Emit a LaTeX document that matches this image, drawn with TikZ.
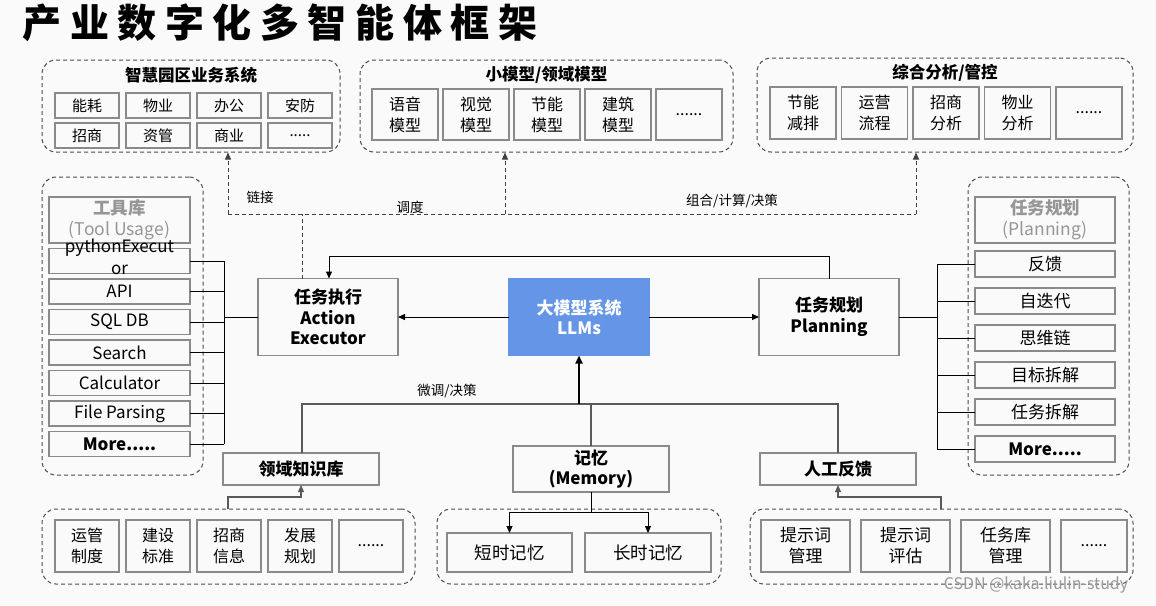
\documentclass[tikz,border=0pt]{standalone}
\usepackage{fontspec}
\setmainfont{Noto Sans CJK SC}
\usetikzlibrary{positioning, arrows.meta}

\definecolor{llmblue}{HTML}{6495E6}
\definecolor{boxgray}{HTML}{8A8A8A}
\definecolor{hdrgray}{HTML}{969696}

\tikzset{
  grp/.style={draw=black!70, line width=1pt, dash pattern=on 4pt off 3pt, rounded corners=14pt},
  cell/.style={draw=boxgray, line width=1.2pt, inner sep=0pt, outer sep=0pt, align=center, font=\fontsize{16}{21}\selectfont},
  pcell/.style={cell, minimum width=64pt, minimum height=25pt, font=\fontsize{15}{18}\selectfont},
  tool/.style={cell, minimum width=141pt, minimum height=25pt, font=\fontsize{17}{22}\selectfont},
  plan/.style={cell, minimum width=140pt, minimum height=26pt, font=\fontsize{17}{22}\selectfont},
  core/.style={draw=boxgray, line width=1.2pt, inner sep=0pt, outer sep=0pt, align=center, font=\bfseries\fontsize{17}{20.5}\selectfont},
  gtitle/.style={font=\bfseries\fontsize{16.5}{18}\selectfont},
  lbl/.style={font=\fontsize{13.5}{15}\selectfont},
  wire/.style={draw=black, line width=1pt},
  wiregray/.style={draw=black!65, line width=1.2pt},
  dwire/.style={draw=black!75, line width=1pt, dash pattern=on 4pt off 3pt},
  arr/.style={-{Triangle[length=7pt,width=6pt]}},
}

\begin{document}
\begin{tikzpicture}[x=1pt, y=-1pt]
  \useasboundingbox (0,0) rectangle (1156,605);
  \fill[black!2] (0,0) rectangle (1156,605);

  % Titolo
  \node[anchor=west, font=\bfseries\fontsize{39}{40}\selectfont\addfontfeatures{LetterSpace=22}] (title) at (19,23) {产业数字化多智能体框架};

  %智慧园区业务系统
  \node[grp, minimum width=298pt, minimum height=92pt] (park) at (191,106) {};
  \node[gtitle] (parkt) at (191,75) {智慧园区业务系统};
  \node[pcell] (nh) at (87,105.5) {能耗};
  \node[pcell, right=7pt of nh] (wy) {物业};
  \node[pcell, right=7pt of wy] (bg) {办公};
  \node[pcell, right=7pt of bg] (af) {安防};
  \node[pcell, below=5pt of nh] (zs) {招商};
  \node[pcell, right=7pt of zs] (zg) {资管};
  \node[pcell, right=7pt of zg] (sy) {商业};
  \node[pcell, right=7pt of sy] (pmore) {.....};

  % 小模型/领域模型
  \node[grp, minimum width=373pt, minimum height=92pt] (small) at (546.5,106) {};
  \node[gtitle] (smallt) at (546.5,75) {小模型/领域模型};
  \node[cell, minimum width=66pt, minimum height=51pt] (yy) at (405,114.5) {语音\\模型};
  \node[cell, minimum width=66pt, minimum height=51pt, right=5pt of yy] (sj) {视觉\\模型};
  \node[cell, minimum width=66pt, minimum height=51pt, right=5pt of sj] (jn) {节能\\模型};
  \node[cell, minimum width=66pt, minimum height=51pt, right=5pt of jn] (jz) {建筑\\模型};
  \node[cell, minimum width=66pt, minimum height=51pt, right=5pt of jz] (smore) {......};

  % 综合分析/管控
  \node[grp, minimum width=376pt, minimum height=94pt] (ana) at (945,105) {};
  \node[gtitle] (anat) at (945,73) {综合分析/管控};
  \node[cell, minimum width=66pt, minimum height=52pt] (jnjp) at (803,113) {节能\\减排};
  \node[cell, minimum width=66pt, minimum height=52pt, right=5.5pt of jnjp] (yylc) {运营\\流程};
  \node[cell, minimum width=66pt, minimum height=52pt, right=5.5pt of yylc] (zsfx) {招商\\分析};
  \node[cell, minimum width=66pt, minimum height=52pt, right=5.5pt of zsfx] (wyfx) {物业\\分析};
  \node[cell, minimum width=66pt, minimum height=52pt, right=5.5pt of wyfx] (amore) {......};

  % 工具库
  \node[grp, minimum width=161pt, minimum height=298pt] (tools) at (122.5,326) {};
  \node[cell, minimum width=141pt, minimum height=46pt, text=hdrgray, font=\fontsize{17.5}{21}\selectfont] (toolh) at (119.5,220) {\textbf{工具库}\\(Tool Usage)};
  \node[tool, below=5.5pt of toolh] (t1) {\smash{\parbox[c]{141pt}{\centering pythonExecut\\or}}};
  \node[tool, below=5.5pt of t1] (t2) {API};
  \node[tool, below=5.5pt of t2] (t3) {SQL DB};
  \node[tool, below=5.5pt of t3] (t4) {Search};
  \node[tool, below=5.5pt of t4] (t5) {Calculator};
  \node[tool, below=5.5pt of t5] (t6) {File Parsing};
  \node[tool, below=5.5pt of t6, font=\bfseries\fontsize{17}{22}\selectfont] (t7) {More.....};

  % 任务规划 (Planning)
  \node[grp, minimum width=161pt, minimum height=298pt] (plans) at (1048.5,326) {};
  \node[cell, minimum width=140pt, minimum height=46pt, text=hdrgray, font=\fontsize{17.5}{21}\selectfont] (planh) at (1045,220) {\textbf{任务规划}\\(Planning)};
  \node[plan, below=8pt of planh] (p1) {反馈};
  \node[plan, below=11pt of p1] (p2) {自迭代};
  \node[plan, below=11pt of p2] (p3) {思维链};
  \node[plan, below=11pt of p3] (p4) {目标拆解};
  \node[plan, below=11pt of p4] (p5) {任务拆解};
  \node[plan, below=11pt of p5, font=\bfseries\fontsize{17}{22}\selectfont] (p6) {More.....};

  % Nodi centrali
  \node[core, fill=llmblue, draw=llmblue, text=white, minimum width=140pt, minimum height=77pt] (llm) at (579,317) {大模型系统\\LLMs};
  \node[core, minimum width=140pt, minimum height=77pt, left=111pt of llm] (action) {任务执行\\Action\\Executor};
  \node[core, minimum width=140pt, minimum height=77pt, right=110pt of llm] (planning) {任务规划\\Planning};

  \node[core, minimum width=156pt, minimum height=32pt] (know) at (301,469) {领域知识库};
  \node[core, minimum width=156pt, minimum height=46pt] (mem) at (591,469) {记忆\\(Memory)};
  \node[core, minimum width=156pt, minimum height=32pt] (human) at (838,469) {人工反馈};

  % Gruppi in basso
  \node[grp, minimum width=373pt, minimum height=75pt] (kgrp) at (228.5,546.5) {};
  \node[cell, minimum width=64pt, minimum height=52pt] (k1) at (87,546) {运管\\制度};
  \node[cell, minimum width=64pt, minimum height=52pt, right=7pt of k1] (k2) {建设\\标准};
  \node[cell, minimum width=64pt, minimum height=52pt, right=7pt of k2] (k3) {招商\\信息};
  \node[cell, minimum width=64pt, minimum height=52pt, right=7pt of k3] (k4) {发展\\规划};
  \node[cell, minimum width=64pt, minimum height=52pt, right=7pt of k4] (k5) {......};

  \node[grp, minimum width=284pt, minimum height=75pt] (mgrp) at (579,546.5) {};
  \node[cell, minimum width=125pt, minimum height=39pt, font=\fontsize{17.5}{21}\selectfont] (short) at (509.5,552.5) {短时记忆};
  \node[cell, minimum width=126pt, minimum height=39pt, font=\fontsize{17.5}{21}\selectfont, right=13pt of short] (long) {长时记忆};

  \node[grp, minimum width=383pt, minimum height=75pt] (fgrp) at (941.5,546.5) {};
  \node[cell, minimum width=89pt, minimum height=52pt, font=\fontsize{17}{21}\selectfont] (f1) at (805.5,546) {提示词\\管理};
  \node[cell, minimum width=89pt, minimum height=52pt, font=\fontsize{17}{21}\selectfont, right=11pt of f1] (f2) {提示词\\评估};
  \node[cell, minimum width=89pt, minimum height=52pt, font=\fontsize{17}{21}\selectfont, right=11pt of f2] (f3) {任务库\\管理};
  \node[cell, minimum width=66pt, minimum height=52pt, right=11pt of f3] (f4) {......};

  % Collegamenti tratteggiati in alto
  \coordinate (dj) at (302,214);
  \coordinate (dl) at (228,214);
  \coordinate (dm) at (505,214);
  \coordinate (dr) at (916,214);
  \draw[dwire] (action.north -| dj) -- (dj);
  \draw[dwire] (dl) -- (dr);
  \draw[dwire, arr] (dl) -- (dl |- park.south);
  \draw[dwire, arr] (dm) -- (dm |- small.south);
  \draw[dwire, arr] (dr) -- (dr |- ana.south);
  \node[lbl] (llink) at (260,197) {链接};
  \node[lbl] (lsched) at (410,207) {调度};
  \node[lbl] (lcomb) at (732,201) {组合/计算/决策};

  % LLM, esecuzione e pianificazione
  \coordinate (fb) at (329,256);
  \draw[wire, arr] (planning.north) |- (fb) -- (fb |- action.north);
  \draw[wire, arr] (llm.west) -- (action.east);
  \draw[wire, arr] (llm.east) -- (planning.west);

  % Bus strumenti
  \coordinate (tb) at (224,317);
  \draw[wire] (t1.east) -- (t1.east -| tb) (t2.east) -- (t2.east -| tb)
    (t3.east) -- (t3.east -| tb) (t4.east) -- (t4.east -| tb)
    (t5.east) -- (t5.east -| tb) (t6.east) -- (t6.east -| tb)
    (t7.east) -- (t7.east -| tb);
  \draw[wire] (t1.east -| tb) -- (t7.east -| tb);
  \draw[wire] (tb) -- (action.west);

  % Bus pianificazione
  \coordinate (pb) at (937,317);
  \draw[wire] (p1.west) -- (p1.west -| pb) (p2.west) -- (p2.west -| pb)
    (p3.west) -- (p3.west -| pb) (p4.west) -- (p4.west -| pb)
    (p5.west) -- (p5.west -| pb) (p6.west) -- (p6.west -| pb);
  \draw[wire] (p1.west -| pb) -- (p6.west -| pb);
  \draw[wire] (planning.east) -- (pb);

  % Fine-tuning / decisione
  \coordinate (fl) at (302,404);
  \coordinate (fup) at (579,404);
  \draw[wiregray] (know.north -| fl) -- (fl) -- (fl -| human.north) -- (human.north);
  \draw[wiregray] (mem.north) -- (mem.north |- fl);
  \draw[draw=black, line width=2pt, -{Triangle[length=8pt,width=7pt]}] (fup) -- (llm.south);
  \node[lbl] (lft) at (447,391) {微调/决策};

  % Collegamenti in basso
  \coordinate (kj) at (228,497);
  \draw[wiregray, arr] (kj |- kgrp.north) -- (kj) -| (know.south);
  \coordinate (mj) at (591,512);
  \draw[wire] (mem.south) -- (mj);
  \draw[wire, arr] (mj) -| (short.north);
  \draw[wire, arr] (mj) -| (long.north);
  \coordinate (fj) at (941,497);
  \draw[wiregray, arr] (fj |- fgrp.north) -- (fj) -| (human.south);

  % Filigrana
  \node[font=\fontsize{16}{18}\selectfont, text=black!40] (wm) at (1036,585) {CSDN @kaka.liulin-study};
\end{tikzpicture}
\end{document}
